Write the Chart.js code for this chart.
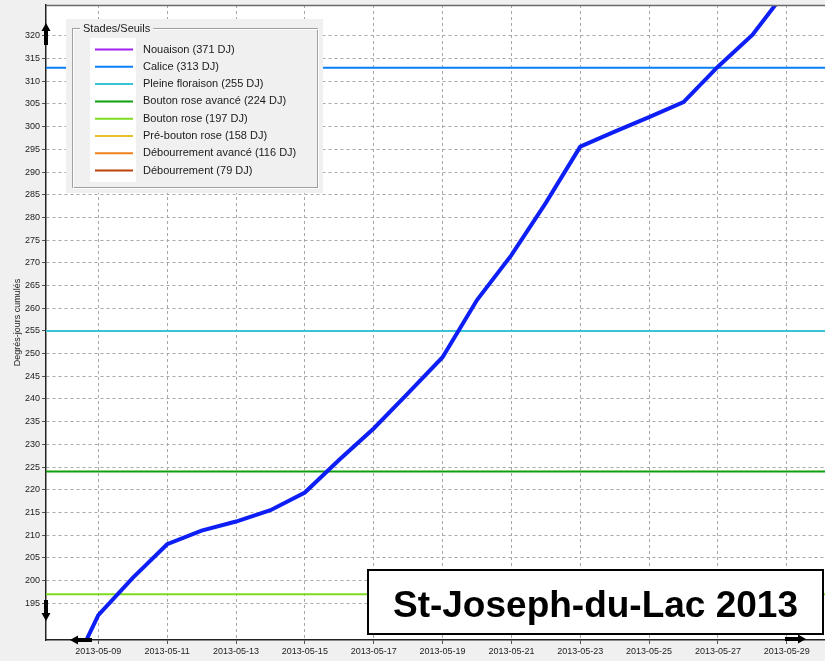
<!DOCTYPE html>
<html>
<head>
<meta charset="utf-8">
<script src="https://cdn.jsdelivr.net/npm/chart.js@4.4.1/dist/chart.umd.min.js"></script>
<style>
  body { margin: 0; background: #f0f0f0; }
  canvas { display: block; }
</style>
</head>
<body>
<canvas id="dj-chart" width="825" height="661"></canvas>
<script>
// cumulated degree-days, one value per day
var dates = ['2013-05-08', '2013-05-09', '2013-05-10', '2013-05-11', '2013-05-12', '2013-05-13',
             '2013-05-14', '2013-05-15', '2013-05-16', '2013-05-17', '2013-05-18', '2013-05-19',
             '2013-05-20', '2013-05-21', '2013-05-22', '2013-05-23', '2013-05-24', '2013-05-25',
             '2013-05-26', '2013-05-27', '2013-05-28', '2013-05-29'];
var degreeDays = [176.5, 192.4, 200.6, 208.0, 211.0, 213.0,
                  215.5, 219.4, 226.6, 233.5, 241.3, 249.2,
                  261.8, 271.7, 283.2, 295.6, 298.9, 302.1,
                  305.4, 313.2, 320.2, 330.1];

// stages and their thresholds
var stageNames = ['Nouaison', 'Calice', 'Pleine floraison', 'Bouton rose avancé', 'Bouton rose',
                  'Pré-bouton rose', 'Débourrement avancé', 'Débourrement'];
var stageThresholds = [371, 313, 255, 224, 197, 158, 116, 79];
var stageColors = ['#a020f0', '#0a7ff5', '#38c4d6', '#0f9f0f', '#7ddc1f', '#e8c02c', '#f0801c', '#c0400c'];

var xTickLabels = ['2013-05-09', '2013-05-11', '2013-05-13', '2013-05-15', '2013-05-17', '2013-05-19',
                   '2013-05-21', '2013-05-23', '2013-05-25', '2013-05-27', '2013-05-29'];
var yTickMin = 195, yTickMax = 320;

var titleText = 'St-Joseph-du-Lac 2013';
var yTitle = 'Degrés-jours cumulés';
var legendTitle = 'Stades/Seuils';

var FONT = 'Liberation Sans, Arial, sans-serif';

function dayOf(d) { return Number(d.slice(8, 10)); }

var firstDay = dayOf(dates[0]) - 1;
var lastDay = dayOf(dates[dates.length - 1]) + 2;

var datasets = [{
    label: 'DJ',
    data: dates.map(function(d, i){ return {x: dayOf(d), y: degreeDays[i]}; }),
    borderColor: '#0d1ff5',
    borderWidth: 4,
    pointRadius: 0,
    tension: 0,
    clip: 0
}];
stageNames.forEach(function(name, i){
    datasets.push({
        label: name + ' (' + stageThresholds[i] + ' DJ)',
        data: [{x: firstDay, y: stageThresholds[i]}, {x: lastDay, y: stageThresholds[i]}],
        borderColor: stageColors[i],
        borderWidth: 2,
        pointRadius: 0,
        clip: 0,
        stage: true
    });
});

function arrow(ctx, x1, y1, x2, y2) {
    // filled arrow from (x1,y1) to tip (x2,y2)
    var a = Math.atan2(y2 - y1, x2 - x1);
    var len = Math.hypot(x2 - x1, y2 - y1);
    ctx.save();
    ctx.translate(x1, y1);
    ctx.rotate(a);
    ctx.fillStyle = '#000';
    ctx.beginPath();
    ctx.moveTo(0, -2);
    ctx.lineTo(len - 8, -2);
    ctx.lineTo(len - 8, -4.5);
    ctx.lineTo(len, 0);
    ctx.lineTo(len - 8, 4.5);
    ctx.lineTo(len - 8, 2);
    ctx.lineTo(0, 2);
    ctx.closePath();
    ctx.fill();
    ctx.restore();
}

var decor = {
    id: 'decor',
    beforeDraw: function(chart) {
        var ctx = chart.ctx, a = chart.chartArea;
        ctx.save();
        ctx.fillStyle = '#f0f0f0';
        ctx.fillRect(0, 0, chart.width, chart.height);
        ctx.fillStyle = '#ffffff';
        ctx.fillRect(a.left, a.top, a.right - a.left, a.bottom - a.top);
        ctx.restore();
    },
    afterDraw: function(chart) {
        var ctx = chart.ctx, a = chart.chartArea;
        ctx.save();

        // top frame
        ctx.strokeStyle = '#6a6a6a';
        ctx.lineWidth = 1.5;
        ctx.beginPath();
        ctx.moveTo(a.left, a.top + 0.5);
        ctx.lineTo(a.right, a.top + 0.5);
        ctx.stroke();

        // legend group box
        var lx = a.left + 20, ly = a.top + 14;
        ctx.fillStyle = '#f0f0f0';
        ctx.fillRect(lx, ly, 257, 174);
        ctx.lineWidth = 1;
        ctx.strokeStyle = '#a0a0a0';
        ctx.strokeRect(lx + 6.5, ly + 9.5, 245, 159);
        ctx.strokeStyle = '#ffffff';
        ctx.strokeRect(lx + 7.5, ly + 10.5, 245, 159);
        ctx.font = '11px ' + FONT;
        ctx.textBaseline = 'middle';
        ctx.textAlign = 'left';
        var tw = ctx.measureText(legendTitle).width;
        ctx.fillStyle = '#f0f0f0';
        ctx.fillRect(lx + 14, ly + 4, tw + 6, 12);
        ctx.fillStyle = '#1a1a1a';
        ctx.fillText(legendTitle, lx + 17, ly + 10);
        ctx.fillStyle = '#ffffff';
        ctx.fillRect(lx + 24, ly + 19, 46, 144);
        chart.data.datasets.forEach(function(ds) {
            if (!ds.stage) return;
            var i = stageNames.length - (chart.data.datasets.length - chart.data.datasets.indexOf(ds));
            var yy = ly + 30.5 + i * 17.3;
            ctx.strokeStyle = ds.borderColor;
            ctx.lineWidth = 2;
            ctx.beginPath();
            ctx.moveTo(lx + 29, yy);
            ctx.lineTo(lx + 67, yy);
            ctx.stroke();
            ctx.fillStyle = '#1a1a1a';
            ctx.fillText(ds.label, lx + 77, yy);
        });

        // title box
        var bx = a.right - 457, by = a.bottom - 70;
        ctx.fillStyle = '#ffffff';
        ctx.fillRect(bx, by, 455, 64);
        ctx.strokeStyle = '#000';
        ctx.lineWidth = 2;
        ctx.strokeRect(bx, by, 455, 64);
        ctx.fillStyle = '#000';
        ctx.font = 'bold 37px ' + FONT;
        ctx.textAlign = 'center';
        ctx.textBaseline = 'alphabetic';
        ctx.fillText(titleText, bx + 227.5, by + 46.5);

        // scroll arrows
        arrow(ctx, a.left, a.top + 40, a.left, a.top + 18);
        arrow(ctx, a.left, a.bottom - 40, a.left, a.bottom - 19);
        arrow(ctx, a.left + 46, a.bottom, a.left + 24, a.bottom);
        arrow(ctx, a.right - 40, a.bottom - 1, a.right - 19, a.bottom - 1);

        ctx.restore();
    }
};

var tickFont = {family: FONT, size: 9};

var chart = new Chart(document.getElementById('dj-chart').getContext('2d'), {
    type: 'line',
    data: { datasets: datasets },
    options: {
        responsive: false,
        animation: false,
        devicePixelRatio: 1,
        layout: { padding: {top: 5, left: 0, right: 0, bottom: 0} },
        plugins: {
            legend: { display: false },
            tooltip: { enabled: false }
        },
        scales: {
            x: {
                type: 'linear',
                min: 7.48,
                max: 30.11,
                afterBuildTicks: function(s) {
                    s.ticks = xTickLabels.map(function(l){ return {value: dayOf(l)}; });
                },
                afterFit: function(s) { s.height = 21; s.paddingLeft = 0; s.paddingRight = 0; },
                ticks: {
                    autoSkip: false, maxRotation: 0, padding: 2, color: '#222', font: tickFont,
                    callback: function(v, i) { return xTickLabels[i]; }
                },
                grid: { color: '#a8a8a8', lineWidth: 1, tickLength: 4, tickColor: '#555', tickBorderDash: [] },
                border: { color: '#222', width: 1.5, dash: [3, 3] }
            },
            y: {
                min: 186.9,
                max: 326.8,
                afterBuildTicks: function(s) {
                    s.ticks = s.ticks.filter(function(t){ return t.value >= yTickMin && t.value <= yTickMax; });
                },
                afterFit: function(s) { s.width = 46; s.paddingTop = 0; s.paddingBottom = 0; },
                ticks: { stepSize: 5, padding: 2, color: '#222', font: tickFont },
                grid: { color: '#a8a8a8', lineWidth: 1, tickLength: 4, tickColor: '#555', tickBorderDash: [] },
                border: { color: '#222', width: 1.5, dash: [3, 3] },
                title: {
                    display: true, text: yTitle, color: '#222',
                    font: {family: FONT, size: 9},
                    padding: {top: 12, bottom: 0}
                }
            }
        }
    },
    plugins: [decor]
});
</script>
</body>
</html>
